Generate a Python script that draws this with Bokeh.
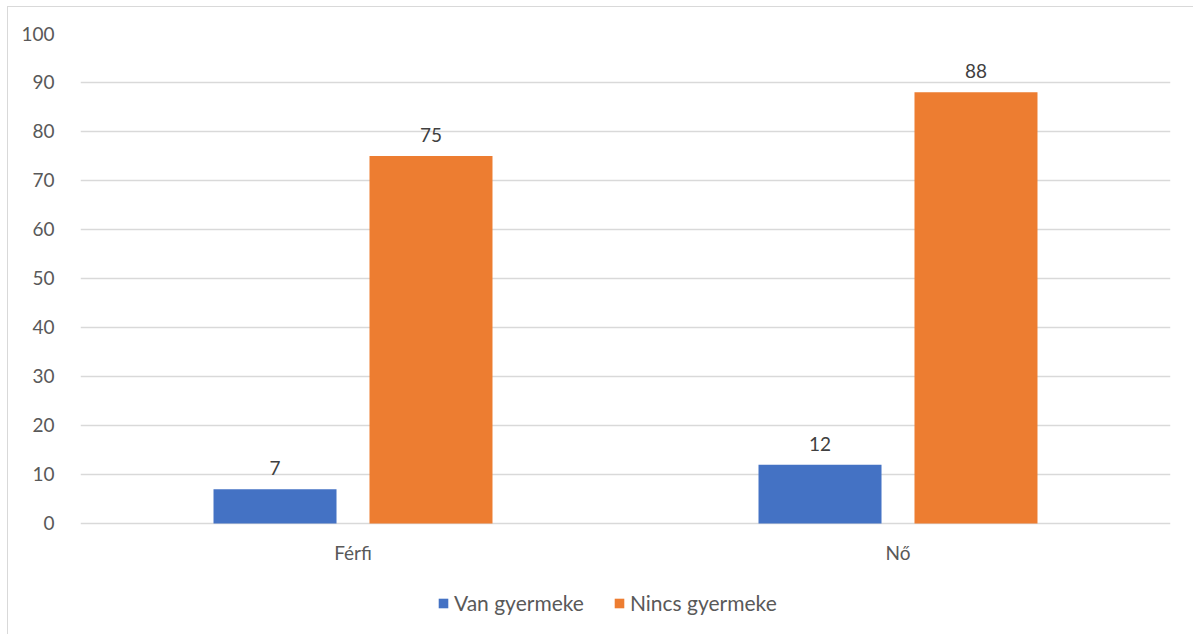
from bokeh.plotting import figure
from bokeh.models import ColumnDataSource, FactorRange, Range1d, Legend, LegendItem, LabelSet
from bokeh.transform import dodge
from bokeh.core.properties import value
from bokeh.embed import file_html
from bokeh.resources import INLINE

# Survey breakdown: respondents with / without children, by sex
categories = ["Férfi", "Nő"]
series_names = ["Van gyermeke", "Nincs gyermeke"]
van_gyermeke = [7, 12]
nincs_gyermeke = [75, 88]
y_ticks = list(range(0, 101, 10))

FONT = "Lato"
BLUE = "#4472C4"
ORANGE = "#ED7D31"
GRID = "#D9D9D9"
TEXT = "#595959"

src = ColumnDataSource(dict(cat=categories, van=van_gyermeke, nincs=nincs_gyermeke,
                            van_txt=[str(v) for v in van_gyermeke],
                            nincs_txt=[str(v) for v in nincs_gyermeke],
                            base=[0] * len(categories)))

# the frame runs down to the bottom edge so the category labels and the legend
# can sit below the zero line without being clipped
Y_BOTTOM = -22.86
p = figure(x_range=FactorRange(*categories), y_range=Range1d(Y_BOTTOM, 100),
           x_axis_location=None,
           width=1186, height=628, output_backend="svg", toolbar_location=None,
           min_border_left=72, min_border_right=24, min_border_top=26, min_border_bottom=0)
p.margin = (6, 0, 0, 7)
p.styles = {"border-left": "1px solid #D9D9D9", "border-top": "1px solid #D9D9D9"}
p.outline_line_color = None
p.background_fill_color = "white"
p.border_fill_color = "white"

OFF = 0.1431
W = 0.2257
r1 = p.vbar(x=dodge("cat", -OFF, range=p.x_range), top="van", width=W, source=src,
            fill_color=BLUE, line_color=None)
r2 = p.vbar(x=dodge("cat", OFF, range=p.x_range), top="nincs", width=W, source=src,
            fill_color=ORANGE, line_color=None)

# value labels above each bar
for col, txt, off in (("van", "van_txt", -OFF), ("nincs", "nincs_txt", OFF)):
    p.add_layout(LabelSet(x=dodge("cat", off, range=p.x_range), y=col, text=txt, source=src,
                          text_align="center", text_baseline="bottom", y_offset=14,
                          text_font=value(FONT), text_font_size="19px", text_color="#404040"))

# category names under the zero line
p.add_layout(LabelSet(x="cat", y="base", text="cat", source=src,
                      text_align="center", text_baseline="top", y_offset=-18,
                      text_font=value(FONT), text_font_size="19px", text_color=TEXT))

# value axis
p.yaxis.ticker = y_ticks
p.yaxis.axis_line_color = None
p.yaxis.major_tick_line_color = None
p.yaxis.minor_tick_line_color = None
p.yaxis.major_label_standoff = 20
p.yaxis.major_label_text_font = FONT
p.yaxis.major_label_text_font_size = "19px"
p.yaxis.major_label_text_color = TEXT

p.xgrid.grid_line_color = None
p.ygrid.ticker = y_ticks
p.ygrid.grid_line_color = GRID
p.ygrid.grid_line_width = 1.3

legend = Legend(items=[LegendItem(label=series_names[0], renderers=[r1]),
                       LegendItem(label=series_names[1], renderers=[r2])],
                orientation="horizontal", location=(357, 20))
legend.padding = 0
legend.margin = 0
legend.spacing = 29
legend.glyph_width = 12
legend.glyph_height = 12
legend.label_standoff = 5
legend.label_text_font = FONT
legend.label_text_font_size = "21px"
legend.label_text_color = TEXT
legend.border_line_color = None
legend.background_fill_alpha = 0
p.add_layout(legend, "center")

open("out.html", "w").write(file_html(p, INLINE))
